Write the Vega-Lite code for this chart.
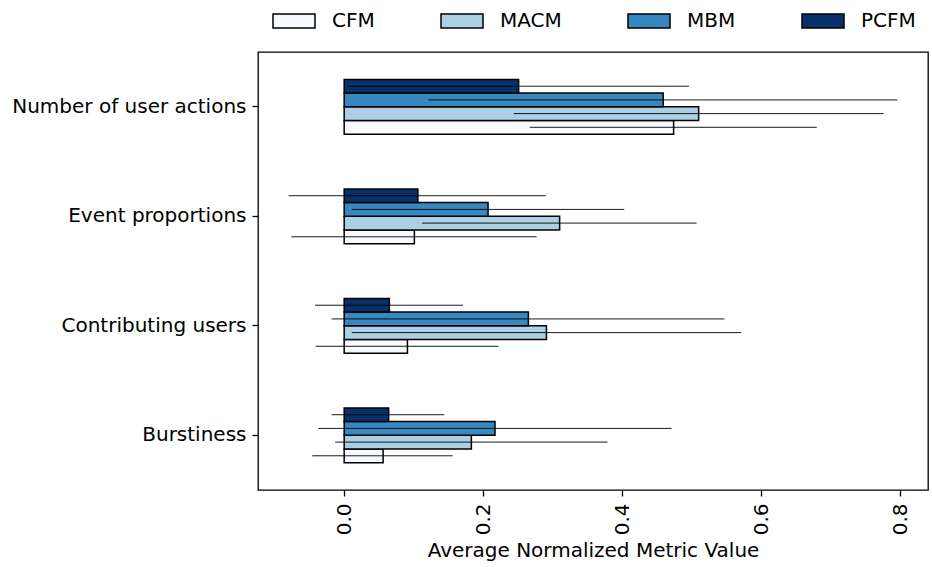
{
  "$schema": "https://vega.github.io/schema/vega-lite/v6.json",
  "autosize": {"type": "none"},
  "width": 670,
  "height": 438,
  "padding": {"left": 258, "top": 52, "right": 4, "bottom": 77},
  "background": "white",
  "config": {
    "font": "DejaVu Sans",
    "view": {"stroke": "black", "strokeWidth": 1.3},
    "axis": {"labelColor": "black", "titleColor": "black", "tickColor": "black", "domain": false, "grid": false, "labelFontSize": 20, "titleFontSize": 20, "titleFontWeight": "normal", "tickSize": 6, "tickWidth": 1.3, "labelLimit": 0}
  },
  "data": {
    "values": [
      {"metric": "Number of user actions", "model": "CFM", "mean": 0.474, "lo": 0.267, "hi": 0.680},
      {"metric": "Number of user actions", "model": "MACM", "mean": 0.510, "lo": 0.244, "hi": 0.776},
      {"metric": "Number of user actions", "model": "MBM", "mean": 0.459, "lo": 0.121, "hi": 0.796},
      {"metric": "Number of user actions", "model": "PCFM", "mean": 0.251, "lo": 0.006, "hi": 0.496},
      {"metric": "Event proportions", "model": "CFM", "mean": 0.101, "lo": -0.076, "hi": 0.277},
      {"metric": "Event proportions", "model": "MACM", "mean": 0.310, "lo": 0.112, "hi": 0.507},
      {"metric": "Event proportions", "model": "MBM", "mean": 0.207, "lo": 0.011, "hi": 0.403},
      {"metric": "Event proportions", "model": "PCFM", "mean": 0.106, "lo": -0.080, "hi": 0.290},
      {"metric": "Contributing users", "model": "CFM", "mean": 0.091, "lo": -0.041, "hi": 0.222},
      {"metric": "Contributing users", "model": "MACM", "mean": 0.291, "lo": 0.011, "hi": 0.571},
      {"metric": "Contributing users", "model": "MBM", "mean": 0.265, "lo": -0.018, "hi": 0.547},
      {"metric": "Contributing users", "model": "PCFM", "mean": 0.065, "lo": -0.042, "hi": 0.171},
      {"metric": "Burstiness", "model": "CFM", "mean": 0.056, "lo": -0.046, "hi": 0.156},
      {"metric": "Burstiness", "model": "MACM", "mean": 0.183, "lo": -0.013, "hi": 0.379},
      {"metric": "Burstiness", "model": "MBM", "mean": 0.217, "lo": -0.037, "hi": 0.471},
      {"metric": "Burstiness", "model": "PCFM", "mean": 0.064, "lo": -0.018, "hi": 0.144}
    ]
  },
  "encoding": {
    "y": {
      "field": "metric", "type": "nominal",
      "sort": ["Number of user actions", "Event proportions", "Contributing users", "Burstiness"],
      "scale": {"paddingInner": 0.5, "paddingOuter": 0.25},
      "axis": {"title": null, "labelPadding": 6}
    },
    "yOffset": {
      "field": "model", "type": "nominal",
      "scale": {"domain": ["PCFM", "MBM", "MACM", "CFM"], "paddingInner": 0, "paddingOuter": 0}
    }
  },
  "layer": [
    {
      "mark": {"type": "bar", "stroke": "black", "strokeWidth": 1.5, "opacity": 1},
      "encoding": {
        "x": {
          "field": "mean", "type": "quantitative",
          "scale": {"domain": [-0.124, 0.84], "nice": false, "zero": false},
          "axis": {"title": "Average Normalized Metric Value", "values": [0, 0.2, 0.4, 0.6, 0.8], "format": ".1f", "labelAngle": -90, "labelPadding": 7, "titlePadding": 6}
        },
        "x2": {"datum": 0},
        "fill": {
          "field": "model", "type": "nominal",
          "scale": {"domain": ["CFM", "MACM", "MBM", "PCFM"], "range": ["#f7fbff", "#abd0e6", "#3787c0", "#08306b"]},
          "legend": {
            "title": null, "orient": "none", "direction": "horizontal", "columns": 4,
            "legendX": 14, "legendY": -53, "padding": 0,
            "gridAlign": "none", "columnPadding": 63,
            "symbolType": "M-1,-0.3333H1V0.3333H-1Z", "symbolSize": 1764,
            "symbolStrokeColor": "black", "symbolStrokeWidth": 1.5, "symbolOpacity": 1,
            "labelFontSize": 20, "labelColor": "black", "labelOffset": 16
          }
        }
      }
    },
    {
      "mark": {"type": "rule", "color": "black", "strokeWidth": 0.9},
      "encoding": {
        "x": {"field": "lo", "type": "quantitative"},
        "x2": {"field": "hi"}
      }
    }
  ]
}
